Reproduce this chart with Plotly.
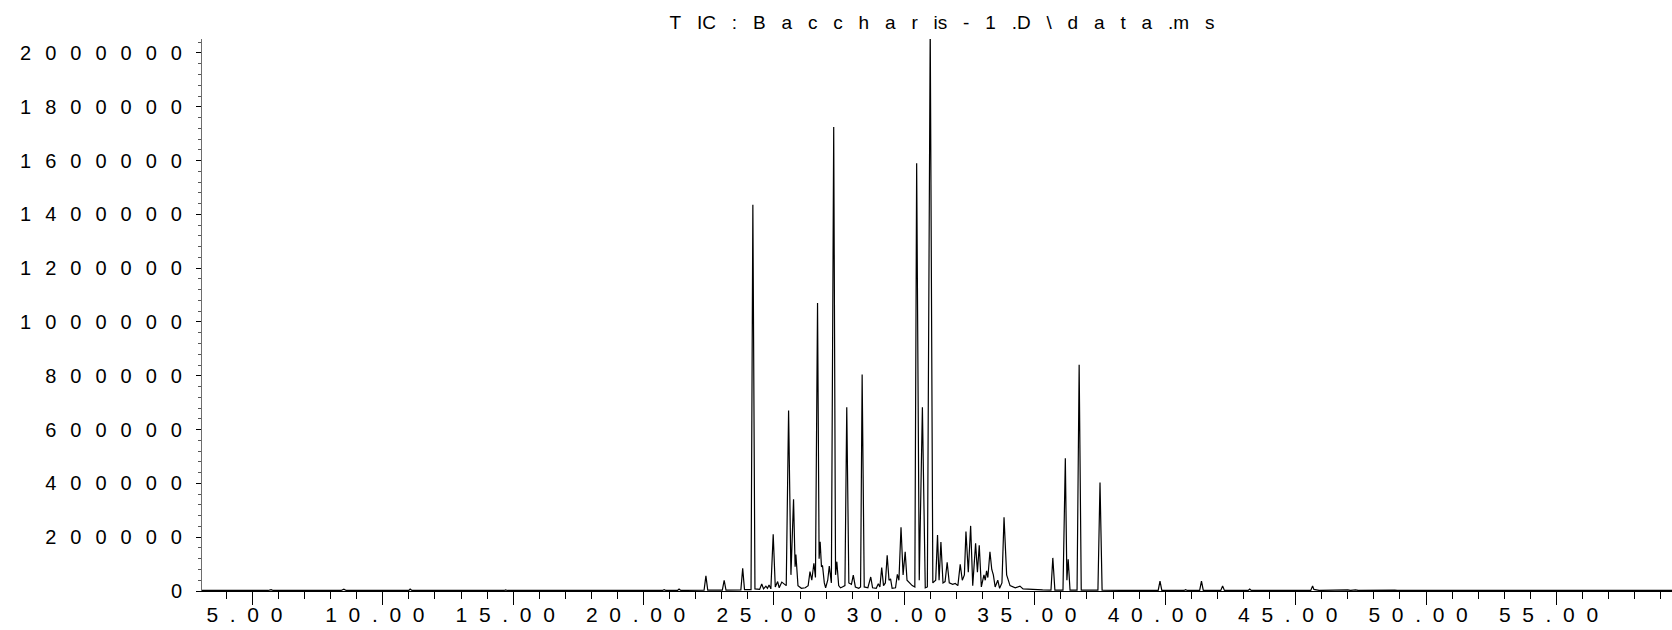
import plotly.graph_objects as go

# Chromatogram trace vertices: retention time (min) and abundance
ret_time = [
    3.07, 5.60, 5.72, 5.80, 8.40, 8.51, 8.60, 11.00, 11.05, 11.12,
    14.65, 14.71, 14.78, 17.30, 17.37, 17.44, 20.72, 20.79, 20.86, 21.30,
    21.36, 21.43, 22.32, 22.39, 22.46, 23.02, 23.09, 23.16, 23.73, 23.80,
    23.87, 24.12, 24.19, 24.27, 24.45, 24.53, 24.60, 24.69, 24.75, 24.81,
    24.88, 24.97, 25.05, 25.14, 25.20, 25.30, 25.47, 25.56, 25.65, 25.75,
    25.81, 25.84, 25.92, 26.05, 26.20, 26.31, 26.38, 26.45, 26.53, 26.59,
    26.67, 26.73, 26.77, 26.82, 26.86, 26.93, 26.98, 27.06, 27.12, 27.20,
    27.29, 27.36, 27.41, 27.48, 27.55, 27.62, 27.72, 27.79, 27.87, 27.97,
    28.04, 28.12, 28.25, 28.32, 28.38, 28.46, 28.60, 28.71, 28.78, 28.92,
    29.00, 29.06, 29.13, 29.20, 29.27, 29.34, 29.41, 29.47, 29.53, 29.66,
    29.73, 29.79, 29.87, 29.95, 30.03, 30.10, 30.20, 30.30, 30.40, 30.47,
    30.57, 30.69, 30.80, 30.88, 30.99, 31.09, 31.20, 31.27, 31.33, 31.40,
    31.48, 31.56, 31.64, 31.72, 31.85, 31.95, 32.05, 32.14, 32.22, 32.30,
    32.36, 32.45, 32.54, 32.62, 32.73, 32.80, 32.87, 32.95, 33.05, 33.10,
    33.15, 33.20, 33.28, 33.35, 33.41, 33.48, 33.58, 33.65, 33.74, 33.82,
    33.92, 34.05, 34.25, 34.43, 34.55, 34.80, 35.00, 35.30, 35.62, 35.69,
    35.77, 36.08, 36.17, 36.23, 36.28, 36.35, 36.62, 36.70, 36.78, 37.42,
    37.50, 37.58, 38.50, 39.73, 39.80, 39.87, 40.72, 40.78, 40.85, 41.32,
    41.39, 41.46, 42.13, 42.20, 42.27, 43.18, 43.24, 43.30, 45.58, 45.65,
    45.70, 45.80, 45.90, 47.00, 47.10, 47.30, 47.40, 48.80, 48.90, 59.50,
]
abundance = [
    2000, 2000, 5000, 2000, 2000, 7000, 2000, 2000, 7000, 2000,
    2000, 4000, 2000, 2000, 4000, 2000, 2000, 5000, 2000, 2000,
    7000, 2000, 3000, 56000, 3000, 3000, 40000, 3000, 4000, 84000,
    5000, 5000, 1436000, 8000, 6000, 26000, 8000, 18000, 10000, 22000,
    8000, 211000, 15000, 35000, 12000, 33000, 20000, 671000, 60000, 341000,
    90000, 136000, 20000, 10000, 12000, 20000, 72000, 40000, 103000, 50000,
    1071000, 120000, 183000, 90000, 95000, 30000, 12000, 40000, 93000, 30000,
    1725000, 60000, 109000, 20000, 12000, 15000, 20000, 683000, 30000, 25000,
    59000, 15000, 10000, 15000, 805000, 15000, 12000, 52000, 12000, 10000,
    27000, 15000, 87000, 20000, 30000, 133000, 40000, 45000, 10000, 12000,
    62000, 40000, 237000, 60000, 146000, 40000, 30000, 20000, 15000, 1590000,
    40000, 683000, 12000, 15000, 2100000, 30000, 40000, 208000, 40000, 182000,
    30000, 35000, 107000, 30000, 25000, 28000, 20000, 99000, 40000, 60000,
    221000, 70000, 242000, 20000, 177000, 70000, 170000, 15000, 60000, 40000,
    75000, 50000, 146000, 80000, 60000, 15000, 40000, 10000, 30000, 274000,
    60000, 20000, 12000, 18000, 8000, 6000, 5000, 4000, 3000, 123000,
    3000, 3000, 493000, 40000, 118000, 3000, 3000, 841000, 3000, 3000,
    403000, 3000, 2000, 2000, 37000, 2000, 2000, 5000, 2000, 2000,
    37000, 2000, 2000, 19000, 2000, 2000, 7000, 2000, 2000, 19000,
    6000, 4000, 2000, 4000, 2000, 4000, 2000, 3000, 2000, 2000,
]

x_tick_vals = [5, 10, 15, 20, 25, 30, 35, 40, 45, 50, 55]
x_tick_labels = ["5.00", "10.00", "15.00", "20.00", "25.00", "30.00",
                 "35.00", "40.00", "45.00", "50.00", "55.00"]
y_tick_vals = [0, 200000, 400000, 600000, 800000, 1000000,
               1200000, 1400000, 1600000, 1800000, 2000000]
y_tick_labels = ["0", "200000", "400000", "600000", "800000", "1000000",
                 "1200000", "1400000", "1600000", "1800000", "2000000"]
title_text = "T IC : B a c c h a r is - 1 .D \\ d a t a .m s"

FONT = "Liberation Sans, Arial, sans-serif"
X_SEP = "\u2007"            # gap between characters of x labels
X_TAIL = "\u2007\u2009"     # labels sit slightly left of their tick
Y_SEP = "\u2002\u2009"
T_SEP = "\u2002\u2004"

fig = go.Figure()
fig.add_trace(go.Scatter(
    x=ret_time, y=abundance, mode="lines",
    line=dict(color="#000000", width=1.2),
    showlegend=False, hoverinfo="x+y",
))

fig.update_layout(
    width=1672, height=630,
    margin=dict(l=202, r=0, t=39, b=39, pad=0, autoexpand=False),
    paper_bgcolor="white", plot_bgcolor="white",
    font=dict(family=FONT, color="#000000"),
    title=dict(
        text=title_text.replace(" ", T_SEP),
        x=942 / 1672, xanchor="center", xref="container",
        y=1 - 22 / 630, yanchor="middle", yref="container",
        font=dict(size=19, family=FONT, color="#000000"),
        automargin=False,
    ),
    xaxis=dict(
        range=[3.07, 59.43],
        automargin=False,
        showgrid=False, zeroline=False,
        showline=True, linecolor="#000000", linewidth=1,
        ticks="outside", ticklen=13, tickwidth=1, tickcolor="#000000",
        tickvals=x_tick_vals,
        ticktext=[X_SEP.join(s) + X_TAIL for s in x_tick_labels],
        tickfont=dict(size=21, family=FONT, color="#000000"),
        ticklabelstandoff=-8,
        minor=dict(ticks="outside", ticklen=7, tickwidth=1, tickcolor="#000000",
                   dtick=1, tick0=0, showgrid=False),
    ),
    yaxis=dict(
        range=[0, 2052000],
        automargin=False,
        showgrid=False, zeroline=False,
        showline=True, linecolor="#6e6e6e", linewidth=1,
        ticks="outside", ticklen=5, tickwidth=1, tickcolor="#000000",
        tickvals=y_tick_vals,
        ticktext=[Y_SEP.join(s) for s in y_tick_labels],
        tickfont=dict(size=20, family=FONT, color="#000000"),
        ticklabelstandoff=10,
        minor=dict(ticks="outside", ticklen=3, tickwidth=1, tickcolor="#555555",
                   dtick=40000, tick0=0, showgrid=False),
    ),
)

fig.write_html("out.html")
